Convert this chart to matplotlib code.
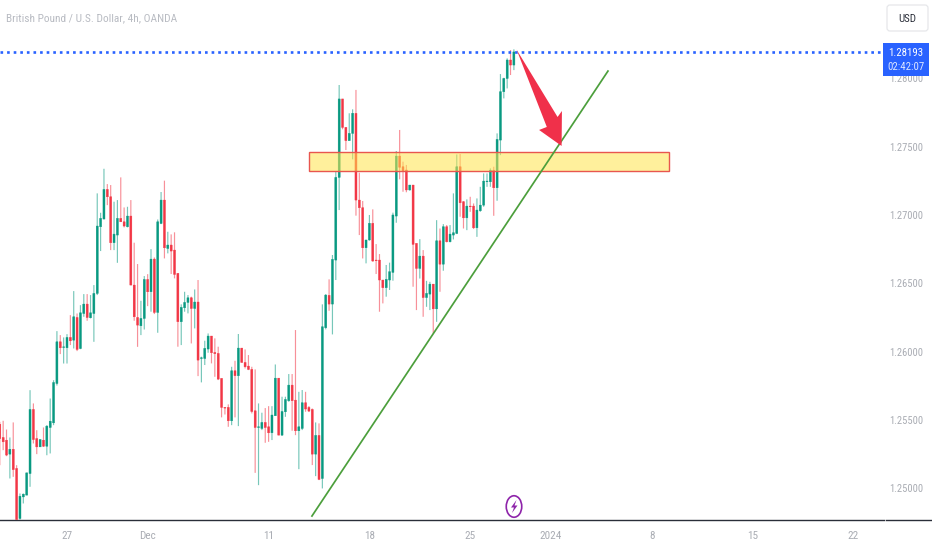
import matplotlib
matplotlib.use("Agg")
import matplotlib.pyplot as plt
from matplotlib.patches import Rectangle, Polygon, FancyBboxPatch, Ellipse

plt.rcParams['font.family'] = ['Roboto Condensed', 'Open Sans Condensed', 'Noto Sans Condensed',
                               'Liberation Sans Narrow', 'Roboto', 'DejaVu Sans']

first_index = -20
opens = [
1.25469,1.25372,1.25352,1.25250,1.25286,1.25145,1.24779,1.24937,1.24950,1.25108,
1.25577,1.25364,1.25303,1.25352,1.25308,1.25445,1.25479,1.25767,1.26072,1.26031,
1.26028,1.26104,1.26084,1.26250,1.26023,1.26279,1.26348,1.26248,1.26279,1.26426,
1.26914,1.26970,1.27187,1.27133,1.26797,1.26853,1.26975,1.26950,1.26914,1.26992,
1.26487,1.26250,1.26189,1.26243,1.26528,1.26438,1.26677,1.26287,1.26938,1.27109,
1.26755,1.26780,1.26743,1.26573,1.26219,1.26321,1.26360,1.26394,1.26316,1.26363,
1.25950,1.25950,1.26019,1.26114,1.25994,1.25987,1.25804,1.25592,1.25592,1.25494,
1.25860,1.25824,1.26026,1.25921,1.25894,1.25870,1.25567,1.25445,1.25438,1.25482,
1.25450,1.25406,1.25531,1.25806,1.25389,1.25560,1.25641,1.25755,1.25645,1.25421,
1.25438,1.25626,1.25592,1.25577,1.25250,1.25387,1.25072,1.26175,1.26412,1.26348,
1.26670,1.27275,1.27849,1.27641,1.27544,1.27597,1.27744,1.27109,1.27053,1.26760,
1.26817,1.26939,1.26670,1.26670,1.26524,1.26468,1.26524,1.26580,1.26992,1.27431,
1.27353,1.27329,1.27183,1.27219,1.26792,1.26609,1.26699,1.26396,1.26421,1.26494,
1.26313,1.26811,1.26640,1.26914,1.26804,1.26853,1.26865,1.27353,1.27097,1.26979,
1.27065,1.27065,1.26906,1.27031,1.27072,1.27243,1.27243,1.27328,1.27199,1.27548,
1.27902,1.27999,1.28134,1.28097]
highs = [
1.25486,1.25494,1.25430,1.25372,1.25482,1.25169,1.24962,1.24962,1.25113,1.25718,
1.25621,1.25425,1.25357,1.25445,1.25462,1.25657,1.25791,1.26150,1.26121,1.26104,
1.26128,1.26267,1.26443,1.26279,1.26340,1.26421,1.26421,1.26414,1.26487,1.27158,
1.27016,1.27338,1.27226,1.27219,1.27097,1.27109,1.27275,1.27055,1.27060,1.27109,
1.26797,1.26641,1.26372,1.26553,1.26567,1.26750,1.26689,1.26967,1.27168,1.27251,
1.26877,1.26858,1.26873,1.26573,1.26346,1.26438,1.26414,1.26402,1.26455,1.26524,
1.25963,1.26080,1.26133,1.26114,1.26097,1.26036,1.25804,1.25592,1.25614,1.25889,
1.25933,1.26129,1.26026,1.26016,1.25975,1.25889,1.25870,1.25621,1.25553,1.25587,
1.25601,1.25601,1.25906,1.25806,1.25670,1.25670,1.25836,1.25836,1.26158,1.25706,
1.25719,1.25706,1.25602,1.25584,1.25482,1.25475,1.26346,1.26421,1.26529,1.26707,
1.27317,1.27951,1.27849,1.27641,1.27744,1.27773,1.27915,1.27309,1.27102,1.26817,
1.27000,1.27041,1.26787,1.26714,1.26524,1.26634,1.26651,1.27017,1.27468,1.27622,
1.27390,1.27366,1.27219,1.27219,1.26792,1.26823,1.26743,1.26518,1.26511,1.26494,
1.26962,1.26901,1.26933,1.26926,1.26926,1.27158,1.27443,1.27446,1.27101,1.27114,
1.27133,1.27084,1.27121,1.27206,1.27304,1.27304,1.27341,1.27353,1.27597,1.28031,
1.28004,1.28146,1.28207,1.28212]
lows = [
1.25169,1.25279,1.25235,1.25072,1.25084,1.24771,1.24771,1.24889,1.24950,1.25011,
1.25328,1.25250,1.25303,1.25303,1.25242,1.25255,1.25462,1.25752,1.25982,1.25913,
1.25913,1.26048,1.26023,1.26004,1.26018,1.26255,1.26226,1.26243,1.26072,1.26414,
1.26736,1.26970,1.27072,1.26743,1.26743,1.26650,1.26950,1.26909,1.26909,1.26487,
1.26226,1.26035,1.26121,1.26162,1.26333,1.26292,1.26275,1.26138,1.26933,1.26682,
1.26719,1.26568,1.26536,1.26036,1.26048,1.26292,1.26280,1.26060,1.26170,1.25821,
1.25775,1.25902,1.25992,1.25914,1.25816,1.25792,1.25519,1.25540,1.25450,1.25462,
1.25519,1.25455,1.25919,1.25877,1.25865,1.25548,1.25113,1.25023,1.25426,1.25333,
1.25340,1.25353,1.25531,1.25389,1.25384,1.25523,1.25633,1.25421,1.25389,1.25140,
1.25426,1.25560,1.25558,1.25170,1.25089,1.25060,1.24999,1.26163,1.26299,1.26126,
1.26524,1.27036,1.27627,1.27475,1.27544,1.27407,1.26995,1.26853,1.26682,1.26646,
1.26812,1.26658,1.26568,1.26292,1.26353,1.26402,1.26451,1.26519,1.26943,1.27261,
1.27170,1.27166,1.27178,1.26475,1.26304,1.26535,1.26255,1.26328,1.26304,1.26133,
1.26218,1.26438,1.26592,1.26799,1.26799,1.26821,1.26860,1.26987,1.26901,1.26889,
1.27023,1.26897,1.26840,1.27023,1.27060,1.27206,1.27206,1.26994,1.27104,1.27438,
1.27853,1.27926,1.28024,1.28060]
closes = [
1.25364,1.25340,1.25243,1.25286,1.25137,1.24771,1.24942,1.24957,1.25113,1.25577,
1.25357,1.25303,1.25357,1.25308,1.25455,1.25491,1.25774,1.26072,1.26028,1.26035,
1.26104,1.26079,1.26255,1.26016,1.26284,1.26348,1.26250,1.26284,1.26426,1.26919,
1.26975,1.27187,1.27133,1.26797,1.26860,1.26975,1.26950,1.26919,1.26992,1.26487,
1.26255,1.26194,1.26243,1.26528,1.26438,1.26677,1.26287,1.26950,1.27109,1.26760,
1.26780,1.26736,1.26565,1.26219,1.26324,1.26360,1.26394,1.26316,1.26363,1.25938,
1.25955,1.26024,1.26114,1.25992,1.25985,1.25799,1.25592,1.25587,1.25494,1.25860,
1.25824,1.26026,1.25921,1.25889,1.25870,1.25562,1.25445,1.25450,1.25482,1.25445,
1.25406,1.25536,1.25806,1.25389,1.25562,1.25650,1.25755,1.25641,1.25421,1.25450,
1.25626,1.25580,1.25565,1.25250,1.25387,1.25065,1.26182,1.26414,1.26348,1.26675,
1.27275,1.27849,1.27641,1.27544,1.27597,1.27744,1.27109,1.27053,1.26760,1.26817,
1.26939,1.26663,1.26665,1.26524,1.26468,1.26529,1.26585,1.27000,1.27431,1.27349,
1.27322,1.27183,1.27219,1.26785,1.26609,1.26699,1.26396,1.26426,1.26494,1.26313,
1.26811,1.26640,1.26914,1.26804,1.26860,1.26870,1.27353,1.27089,1.26979,1.27065,
1.27060,1.26906,1.27036,1.27072,1.27248,1.27248,1.27328,1.27199,1.27553,1.27902,
1.27999,1.28134,1.28097,1.28193]

price_ticks = [1.25, 1.255, 1.26, 1.265, 1.27, 1.275, 1.28]
price_tick_labels = ["1.25000", "1.25500", "1.26000", "1.26500", "1.27000", "1.27500", "1.28000"]
time_ticks = [0, 24, 60, 90, 120, 144, 174, 204, 234]
time_tick_labels = ["27", "Dec", "11", "18", "25", "2024", "8", "15", "22"]
last_price = 1.28193
zone_start, zone_end, zone_low, zone_high = 72.0, 179.2, 1.27321, 1.27463
trend_x = [72.9, 161.0]
trend_y = [1.24797, 1.28053]
arrow_shape = [(133.8, 1.28210), (146.0, 1.27717), (147.3, 1.27761), (147.2, 1.27505),
               (140.5, 1.27622), (142.8, 1.27644)]

GREEN, RED, BLUE, GREY = "#089981", "#F23645", "#2962FF", "#A9ACB3"

W, H = 932, 550
fig = plt.figure(figsize=(W / 100, H / 100), dpi=100, facecolor="white")
ax = fig.add_axes([0, 30 / H, 884 / W, 520 / H])
ax.set_xlim(-19.94, 243.15)
ax.set_ylim(1.24768, 1.28573)

xs = [first_index + n for n in range(len(opens))]
colors = [GREEN if c >= o else RED for o, c in zip(opens, closes)]
wicks = ax.vlines(xs, lows, highs, colors=colors, linewidth=0.85, alpha=0.55, zorder=2)
wicks.set_snap(False)
bodies = ax.bar(xs, [abs(c - o) for o, c in zip(opens, closes)],
                bottom=[min(o, c) for o, c in zip(opens, closes)],
                width=0.6, color=colors, linewidth=0.3, edgecolor=colors, zorder=3)
for b in bodies:
    b.set_snap(False)

ax.add_patch(Rectangle((zone_start, zone_low), zone_end - zone_start, zone_high - zone_low,
                       facecolor="#FFE54C", alpha=0.55, edgecolor="none", zorder=4))
ax.add_patch(Rectangle((zone_start, zone_low), zone_end - zone_start, zone_high - zone_low,
                       facecolor="none", edgecolor="#E8564F", linewidth=1.0, zorder=4))
ax.plot(trend_x, trend_y, color="#4C9F3C", linewidth=1.25, zorder=5)
ax.axhline(last_price, color=BLUE, linewidth=1.9, linestyle=(0, (1.0, 1.5)), zorder=5)
ax.add_patch(Polygon(arrow_shape, closed=True, facecolor="#F0304A", edgecolor="none", zorder=6))

for s in ["top", "left", "right"]:
    ax.spines[s].set_visible(False)
ax.spines["bottom"].set_color("#2A2E39")
ax.spines["bottom"].set_linewidth(1.0)
ax.yaxis.tick_right()
ax.set_yticks(price_ticks, price_tick_labels)
ax.set_xticks(time_ticks, time_tick_labels)
ax.tick_params(axis="y", length=0, pad=3.6, labelsize=7.6, labelcolor=GREY)
ax.tick_params(axis="x", length=0, pad=8.0, labelsize=8.0, labelcolor=GREY)

# Interface elements around the chart, placed in pixel coordinates
ui = fig.add_axes([0, 0, 1, 1], zorder=10)
ui.set_xlim(0, W)
ui.set_ylim(H, 0)
ui.axis("off")
ui.patch.set_alpha(0)
ui.plot([886, 932], [520, 520], color="#2A2E39", linewidth=1.0)
ui.text(6, 18, "British Pound / U.S. Dollar, 4h, OANDA", fontsize=8.2, color="#B8BBC2",
        ha="left", va="center")
ui.add_patch(FancyBboxPatch((887, 5), 41, 26, boxstyle="round,pad=0,rounding_size=3",
                            facecolor="white", edgecolor="#E6E7EA", linewidth=0.9))
ui.text(907, 18.5, "USD", fontsize=7.8, color="#2A2E39", ha="center", va="center")
ui.add_patch(Rectangle((883, 43), 46, 33, facecolor=BLUE, edgecolor="none"))
ui.text(906, 52.5, "1.28193", fontsize=7.8, color="white", ha="center", va="center")
ui.text(906, 67.5, "02:42:07", fontsize=7.8, color="#DCE5FF", ha="center", va="center")
ui.add_patch(Ellipse((514, 506.5), 15.5, 21.5, facecolor="white", edgecolor="#8E24AA", linewidth=1.2))
ui.add_patch(Polygon([(516.5, 500), (511, 507.5), (514, 507.5), (512, 513),
                      (517.5, 505.5), (514.5, 505.5)],
                     closed=True, facecolor="#8E24AA", edgecolor="none"))

fig.savefig("out.png", dpi=100, facecolor="white")
